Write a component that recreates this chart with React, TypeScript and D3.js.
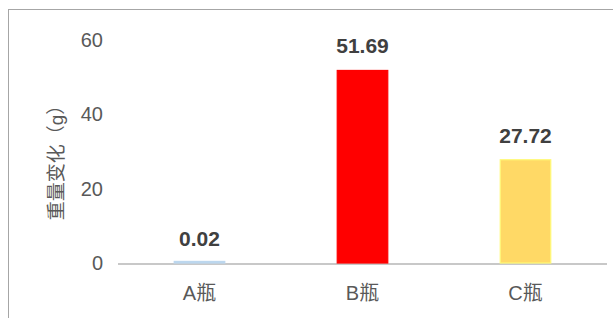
import React from 'react';
import * as d3 from 'd3';

// chart data
const categories = ['A瓶', 'B瓶', 'C瓶'];
const values = [0.02, 51.69, 27.72];
const barColors = ['#BDD7EE', '#FF0000', '#FFD966'];
const yTicks = [0, 20, 40, 60];
const yTitle = '重量变化（g）';

const W = 613;
const H = 318;
const font = '"Liberation Sans", Arial, "Noto Sans CJK SC", sans-serif';

const App = () => {
  const x = d3.scaleBand<string>()
    .domain(categories)
    .range([118, 607])
    .paddingInner(0.69)
    .paddingOuter(0.345);

  const y = d3.scaleLinear().domain([0, 60]).range([263, 39.5]);

  return (
    <svg width={W} height={H} style={{ position: 'absolute', left: 0, top: 0, background: '#fff' }}>
      {/* frame of the chart area */}
      <rect x={8.5} y={9.5} width={700} height={400} fill="none" stroke="#a6a6a6" strokeWidth={1} />

      {/* y tick labels */}
      {yTicks.map((t) => (
        <text key={t} x={103} y={y(t)} dy="0.36em" textAnchor="end"
          fontFamily={font} fontSize={20} fill="#595959">{t}</text>
      ))}

      {/* y title */}
      <text transform={`translate(56, 158) rotate(-90)`} textAnchor="middle" dy="0.36em"
        fontFamily={font} fontSize={19} fill="#595959">{yTitle}</text>

      {/* x axis line */}
      <line x1={118} x2={607} y1={264} y2={264} stroke="#c8c8c8" strokeWidth={2} />

      {/* bars */}
      {categories.map((c, i) => (
        <rect key={c}
          x={x(c)}
          y={y(values[i]) - (i === 0 ? 1.5 : 0)}
          width={x.bandwidth()}
          height={y(0) - y(values[i]) + (i === 0 ? 1.5 : 0)}
          fill={barColors[i]}
          stroke={i === 0 ? barColors[i] : d3.color(barColors[i])!.brighter(0.4).toString()}
          strokeWidth={1.2} />
      ))}

      {/* value labels */}
      {categories.map((c, i) => (
        <text key={c} x={x(c)! + x.bandwidth() / 2} y={y(values[i]) - 17}
          textAnchor="middle" fontFamily={font} fontSize={21} fontWeight="bold" fill="#404040">
          {values[i].toFixed(2)}
        </text>
      ))}

      {/* category labels */}
      {categories.map((c) => (
        <text key={c} x={x(c)! + x.bandwidth() / 2} y={293} dy="0.36em"
          textAnchor="middle" fontFamily={font} fontSize={20} fill="#595959">{c}</text>
      ))}
    </svg>
  );
};

export default App;
